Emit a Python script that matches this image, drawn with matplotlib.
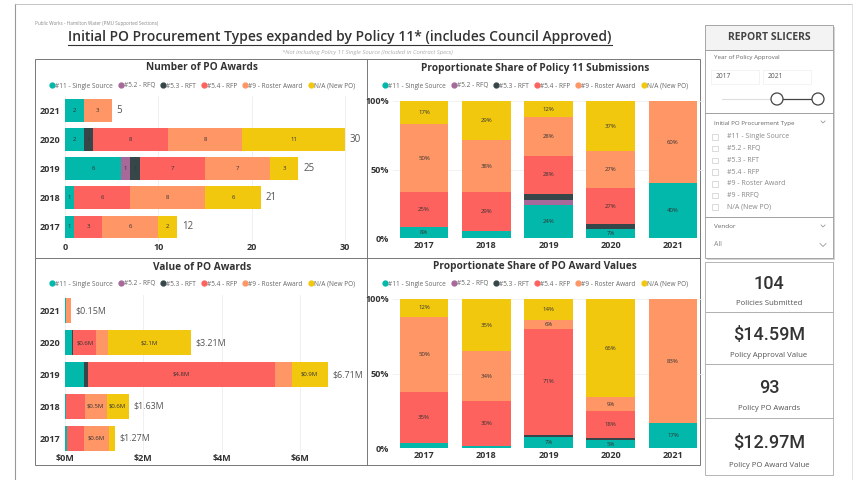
import numpy as np
import matplotlib
matplotlib.use("Agg")
import matplotlib.pyplot as plt
from matplotlib.patches import Rectangle, Circle
from matplotlib.lines import Line2D

plt.rcParams['font.family'] = ['Open Sans', 'DejaVu Sans']

years = ["2017", "2018", "2019", "2020", "2021"]
type_names = ["#11 - Single Source", "#5.2 - RFQ", "#5.3 - RFT",
              "#5.4 - RFP", "#9 - Roster Award", "N/A (New PO)"]
colors = ["#01B8AA", "#A66999", "#374649", "#FD625E", "#FE9666", "#F2C80F"]

# number of PO awards per type (2017..2021)
single_source_n = [1, 1, 6, 2, 2]
rfq_n = [0, 0, 1, 0, 0]
rft_n = [0, 0, 1, 1, 0]
rfp_n = [3, 6, 7, 8, 0]
roster_n = [6, 8, 7, 8, 3]
new_po_n = [2, 6, 3, 11, 0]

# value of PO awards per type, $M (2017..2021)
single_source_v = [0.04, 0.022, 0.48, 0.17, 0.025]
rfq_v = [0, 0, 0.01, 0, 0]
rft_v = [0, 0, 0.09, 0.04, 0]
rfp_v = [0.44, 0.49, 4.79, 0.59, 0]
roster_v = [0.64, 0.548, 0.41, 0.29, 0.125]
new_po_v = [0.15, 0.57, 0.93, 2.12, 0]

slicer_items = ["#11 - Single Source", "#5.2 - RFQ", "#5.3 - RFT", "#5.4 - RFP",
                "#9 - Roster Award", "#9 - RRFQ", "N/A (New PO)"]
kpi_values = ["104", "$14.59M", "93", "$12.97M"]
kpi_labels = ["Policies Submitted", "Policy Approval Value",
              "Policy PO Awards", "Policy PO Award Value"]

count_series = [single_source_n, rfq_n, rft_n, rfp_n, roster_n, new_po_n]
value_series = [single_source_v, rfq_v, rft_v, rfp_v, roster_v, new_po_v]

W, H = 858, 480


def box(l, t, r, b):
    return [l / W, 1 - b / H, (r - l) / W, (b - t) / H]


fig = plt.figure(figsize=(W / 100, H / 100), dpi=100)
bg = fig.add_axes([0, 0, 1, 1])
bg.set_xlim(0, W)
bg.set_ylim(H, 0)
bg.axis("off")

# frame / panel lines
bg.plot([15, 15], [4, 480], color="#999999", lw=0.8)
bg.plot([15, 852], [4, 4], color="#bbbbbb", lw=0.6)
bg.plot([852, 852], [4, 480], color="#dddddd", lw=0.6)
bg.add_patch(Rectangle((35, 59), 665, 406, fill=False, ec="#777777", lw=0.7))
bg.plot([367, 367], [59, 465], color="#777777", lw=0.7)
bg.plot([35, 700], [258, 258], color="#777777", lw=0.7)

# header texts
bg.text(35, 24, "Public Works - Hamilton Water (PMU Supported Sections)",
        fontsize=3.3, color="#888888", va="center")
title = bg.text(340, 37, "Initial PO Procurement Types expanded by Policy 11* (includes Council Approved)",
                fontsize=10, color="#333333", va="center", ha="center", fontweight="semibold")
bg.text(367, 52, "*Not including Policy 11 Single Source (Included in Contract Specs)",
        fontsize=4.2, color="#aaaaaa", va="center", ha="center", style="italic")


def add_legend(ax, cx, cy):
    handles = [Line2D([], [], marker="o", ls="", color=c, markersize=3.5) for c in colors]
    ax.legend(handles, type_names, loc="center", bbox_to_anchor=(cx / W, 1 - cy / H),
              bbox_transform=fig.transFigure, ncol=6, frameon=False, fontsize=4.7,
              handletextpad=0.05, columnspacing=0.85, handlelength=0.8, borderpad=0,
              labelcolor="#666666")


def clean(ax):
    for s in ax.spines.values():
        s.set_visible(False)
    ax.set_facecolor("none")
    ax.tick_params(length=0)


def hbar_chart(rect, series, xmax, ticks, ticklabels, seg_fmt, seg_min, tot_fmt,
               title_text, cx, title_y, legend_y, ypad, tot_size):
    ax = fig.add_axes(box(*rect))
    clean(ax)
    y = np.arange(len(years))
    left = np.zeros(len(years))
    for vals, c in zip(series, colors):
        vals = np.array(vals, dtype=float)
        ax.barh(y, vals, left=left, height=0.78, color=c, edgecolor="none", zorder=2)
        for yi, (l, v) in enumerate(zip(left, vals)):
            if v >= seg_min:
                ax.text(l + v / 2, yi, seg_fmt(v), ha="center", va="center",
                        fontsize=4.3, color="#333333", zorder=3)
        left += vals
    for yi, tot in enumerate(left):
        ax.annotate(tot_fmt(tot), (tot, yi), xytext=(3.5, 0), textcoords="offset points",
                    va="center", fontsize=tot_size, color="#555555")
    ax.set_xlim(0, xmax)
    ax.set_ylim(-0.5, len(years) - 0.5)
    ax.set_yticks(y, years, fontsize=6.5, fontweight="bold", color="#333333")
    ax.set_xticks(ticks, ticklabels, fontsize=6.5, fontweight="bold", color="#333333")
    ax.tick_params(axis="x", pad=ypad)
    ax.grid(axis="x", color="#eeeeee", lw=0.6, zorder=0)
    ax.set_axisbelow(True)
    bg.text(cx, title_y, title_text, ha="center", va="center", fontsize=7.3,
            fontweight="bold", color="#333333")
    add_legend(ax, cx, legend_y)
    return ax


def share_chart(rect, series, title_text, cx, title_y, legend_y):
    ax = fig.add_axes(box(*rect))
    clean(ax)
    x = np.arange(len(years))
    data = np.array(series, dtype=float)
    totals = data.sum(axis=0)
    bottom = np.zeros(len(years))
    for vals, c in zip(data, colors):
        share = vals / totals
        ax.bar(x, share, bottom=bottom, width=0.78, color=c, edgecolor="none", zorder=2)
        for xi, (b, s) in enumerate(zip(bottom, share)):
            if s >= 0.05:
                ax.text(xi, b + s / 2, "%d%%" % round(s * 100), ha="center", va="center",
                        fontsize=4.3, color="#333333", zorder=3)
        bottom += share
    ax.set_xlim(-0.5, len(years) - 0.5)
    ax.set_ylim(0, 1)
    ax.set_yticks([0, 0.5, 1], ["0%", "50%", "100%"], fontsize=6.5, fontweight="bold",
                  color="#333333")
    ax.set_xticks(x, years, fontsize=6.5, fontweight="bold", color="#333333")
    ax.tick_params(axis="x", pad=2)
    ax.tick_params(axis="y", pad=3)
    ax.grid(axis="y", color="#f0f0f0", lw=0.6, zorder=0)
    ax.set_axisbelow(True)
    bg.text(cx, title_y, title_text, ha="center", va="center", fontsize=7.3,
            fontweight="bold", color="#333333")
    add_legend(ax, cx, legend_y)
    return ax


hbar_chart((65, 95.5, 358, 241.6), count_series, 31.4, [0, 10, 20, 30],
           ["0", "10", "20", "30"], lambda v: "%d" % v, 0.5, lambda t: "%d" % round(t),
           "Number of PO Awards", 202, 68, 86, 1, 7)
hbar_chart((65, 295, 355, 454), value_series, 7.4, [0, 2, 4, 6],
           ["$0M", "$2M", "$4M", "$6M"], lambda v: "$%.1fM" % v, 0.5,
           lambda t: "$%.2fM" % t, "Value of PO Awards", 202, 267, 284, 0, 6.4)
share_chart((393, 101, 704, 238), count_series,
            "Proportionate Share of Policy 11 Submissions", 535, 68, 86)
share_chart((393, 299, 704, 448), value_series,
            "Proportionate Share of PO Award Values", 535, 267, 284)


# report slicers panel
def panel(l, t, r, b, face="white", shadow=True):
    if shadow:
        bg.add_patch(Rectangle((l + 1.5, t + 1.5), r - l, b - t, fc="#d4d4d4", ec="none"))
    bg.add_patch(Rectangle((l, t), r - l, b - t, fc=face, ec="#999999", lw=0.6))


def chevron(x, y, s=2.5):
    bg.plot([x - s, x, x + s], [y - s / 2, y + s / 2, y - s / 2], color="#999999", lw=0.6)


panel(705, 25, 833, 50, face="#f3f3f3")
bg.text(769, 38, "REPORT SLICERS", ha="center", va="center", fontsize=7.5,
        fontweight="bold", color="#444444")

panel(705, 50, 833, 113)
bg.text(714, 58, "Year of Policy Approval", fontsize=4.4, color="#666666", va="center")
bg.add_patch(Rectangle((711, 70), 48, 14, fc="none", ec="#eeeeee", lw=0.5))
bg.add_patch(Rectangle((763, 70), 48, 14, fc="none", ec="#eeeeee", lw=0.5))
bg.text(716, 77, "2017", fontsize=4.8, color="#555555", va="center")
bg.text(768, 77, "2021", fontsize=4.8, color="#555555", va="center")
bg.plot([722, 777], [99, 99], color="#dddddd", lw=0.8)
bg.plot([777, 818], [99, 99], color="#444444", lw=0.9)
for hx in (777, 818):
    bg.add_patch(Circle((hx, 99), 6, fc="white", ec="#444444", lw=0.9, zorder=5))

panel(705, 113, 833, 217)
bg.text(714, 123, "Initial PO Procurement Type", fontsize=4.4, color="#666666", va="center")
chevron(823, 122, 2)
for i, item in enumerate(slicer_items):
    iy = 137 + i * 11.7
    bg.add_patch(Rectangle((712, iy - 2.8), 5.6, 5.6, fc="white", ec="#cccccc", lw=0.5))
    bg.text(727, iy, item, fontsize=5, color="#888888", va="center")

panel(705, 217, 833, 258)
bg.text(714, 227, "Vendor", fontsize=4.6, color="#666666", va="center")
chevron(823, 226, 2)
bg.text(714, 245, "All", fontsize=5, color="#888888", va="center")
chevron(823, 245, 3)

# KPI cards
card_edges = [262, 312, 364, 418, 475]
for i in range(4):
    t, b = card_edges[i], card_edges[i + 1]
    bg.add_patch(Rectangle((705, t), 128, b - t, fc="white", ec="#aaaaaa", lw=0.6))
    bg.text(769, t + (b - t) * 0.44, kpi_values[i], ha="center", va="center",
            fontsize=13, color="#333333", fontweight="medium",
            family=["Roboto", "DejaVu Sans"])
    bg.text(769, t + (b - t) * 0.83, kpi_labels[i], ha="center", va="center",
            fontsize=5.6, color="#555555")

# underline for the main title
fig.canvas.draw()
bb = title.get_window_extent(fig.canvas.get_renderer())
bg.plot([bb.x0, bb.x1], [H - bb.y0 + 0.5] * 2, color="#333333", lw=0.8)

fig.savefig("out.png", dpi=100, facecolor="white")
